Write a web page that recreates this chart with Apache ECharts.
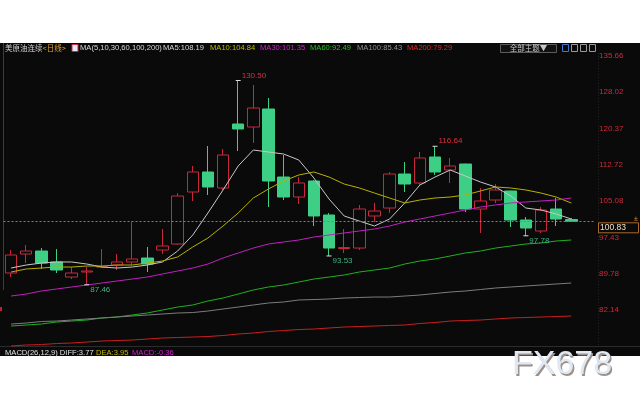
<!DOCTYPE html>
<html><head><meta charset="utf-8">
<script src="https://cdn.jsdelivr.net/npm/echarts@6/dist/echarts.min.js"></script>
<style>html,body{margin:0;padding:0;background:#fff}#c{width:640px;height:400px}</style>
</head><body><div id="c"></div>
<script>
const categories = ['D1','D2','D3','D4','D5','D6','D7','D8','D9','D10','D11','D12','D13','D14','D15','D16','D17','D18','D19','D20','D21','D22','D23','D24','D25','D26','D27','D28','D29','D30','D31','D32','D33','D34','D35','D36','D37','D38',''];
const opens  = [89.94,93.94,94.57,92.26,89.09,90.15,91.20,91.62,92.26,93.10,94.78,96.05,107.00,111.22,107.85,121.33,120.70,124.49,110.16,105.95,109.32,102.16,95.10,95.20,101.95,103.63,110.80,108.90,114.38,111.64,112.90,103.42,105.32,107.22,101.10,98.79,103.42,101.20];
const closes = [93.73,94.57,92.04,90.57,89.94,90.36,91.25,92.26,92.89,91.83,95.63,106.16,111.22,108.06,114.80,120.28,124.70,109.32,105.95,108.90,101.95,95.20,95.30,103.42,103.00,110.80,108.69,114.17,111.22,112.48,103.42,105.11,107.43,101.10,99.42,103.21,101.31,100.83];
const lows   = [89.09,92.04,90.78,89.94,88.67,87.46,90.99,90.57,91.62,90.15,93.94,95.84,105.11,106.37,107.43,115.64,117.33,103.84,105.32,104.48,99.84,93.53,94.15,94.78,100.68,102.58,107.00,108.48,110.59,108.90,102.79,98.37,104.69,99.63,97.78,98.37,99.84,100.80];
const highs  = [94.78,95.84,95.20,94.99,91.20,91.20,94.99,93.94,100.68,95.42,99.21,106.79,112.48,116.70,116.06,130.50,129.55,126.81,114.80,110.16,109.50,102.58,99.21,104.26,104.69,111.22,113.33,115.43,116.64,114.17,113.00,107.85,108.69,107.30,101.74,103.84,105.74,101.52];
const ma5   = [90.99,91.62,92.04,92.26,92.26,91.83,91.20,90.99,91.20,91.62,92.26,94.57,97.94,102.58,107.43,112.48,115.85,115.43,115.01,113.75,109.95,105.53,101.95,100.89,99.84,101.32,104.69,108.48,110.16,111.64,110.38,109.11,108.06,106.16,103.63,103.21,102.37,101.32];
const ma10  = [90.15,90.78,90.99,91.20,91.20,91.41,91.41,91.62,91.62,92.04,92.47,93.31,95.42,97.31,99.84,102.58,105.74,107.64,109.32,110.59,111.22,110.16,108.69,107.85,106.79,105.74,104.69,105.32,105.74,105.95,106.37,107.22,108.06,107.85,107.43,106.79,105.95,104.69];
const ma30  = [85.09,85.51,86.15,86.57,86.99,87.41,87.83,88.25,88.67,89.09,89.73,90.36,90.99,91.83,93.10,94.15,95.20,96.05,96.47,96.89,97.52,97.94,98.37,98.79,99.21,99.84,100.68,101.32,101.95,102.58,103.21,103.84,104.27,104.69,104.90,105.11,105.32,105.74];
const ma60  = [78.77,78.98,79.19,79.61,79.82,80.03,80.46,80.67,81.09,81.51,82.14,82.77,83.20,84.04,84.67,85.51,86.36,86.99,87.41,88.04,88.67,89.09,89.52,90.15,90.57,90.99,91.83,92.47,92.89,93.52,94.15,94.57,95.20,95.63,96.05,96.26,96.68,96.89];
const ma100 = [79.19,79.40,79.72,79.82,80.03,80.25,80.46,80.67,80.88,81.09,81.30,81.51,81.61,81.93,82.35,82.77,83.20,83.62,83.83,84.25,84.35,84.46,84.67,84.78,84.88,84.88,85.09,85.30,85.62,85.93,86.15,86.46,86.78,86.99,87.20,87.41,87.62,87.83];
const ma200 = [74.56,74.77,74.87,75.08,75.19,75.40,75.61,75.71,75.82,76.03,76.24,76.35,76.45,76.56,76.77,77.08,77.30,77.61,77.82,78.03,78.14,78.35,78.56,78.67,78.77,78.88,78.98,79.30,79.51,79.82,79.93,80.03,80.25,80.46,80.56,80.67,80.77,80.88];
const yTicks = [135.66,128.02,120.37,112.72,105.08,97.43,89.78,82.14];
const highMarks = [[15,130.50],[28,116.64]];
const lowMarks = [[5,87.46],[21,93.53],[34,97.78]];
const lastPrice = 100.83;

const candleData = opens.map((o,i)=>[o, closes[i], lows[i], highs[i]]);
const chart = echarts.init(document.getElementById('c'), null, {renderer:'canvas'});
const F = 'Liberation Sans, Arial, sans-serif';
const CJK = 'Noto Sans CJK SC, sans-serif';

function maLine(name, data, color){
  return {name, type:'line', data, showSymbol:false, symbol:'none', silent:true,
    lineStyle:{color, width:1}, z:3};
}
const markData = [];
highMarks.forEach(([i,v])=>markData.push({coord:[i,v], value:v,
  label:{color:'#e0303f', offset:[0,-5]}}));
lowMarks.forEach(([i,v])=>markData.push({coord:[i,v], value:v,
  label:{color:'#3fb383', offset:[0,5]}}));

chart.setOption({
  animation:false,
  backgroundColor:'#0a0a0a',
  grid:{left:3.5, top:53, width:590.5, height:294},
  xAxis:{type:'category', data:categories, boundaryGap:true,
    axisLine:{show:false}, axisTick:{show:false}, axisLabel:{show:false}, splitLine:{show:false}},
  yAxis:{type:'value', position:'right', min:74.35, max:136.29, scale:true,
    axisLine:{show:false}, axisTick:{show:false}, splitLine:{show:false},
    axisLabel:{customValues:yTicks, formatter:v=>v.toFixed(2), color:'#d02a3a', fontSize:8, fontFamily:F, margin:5}},
  series:[
    {type:'candlestick', data:candleData, barWidth:12, z:2,
      itemStyle:{color:'#0a0a0a', borderColor:'#c8283c', color0:'#3ccf85', borderColor0:'#3ccf85', borderWidth:1},
      markLine:{silent:true, symbol:'none', label:{show:false},
        lineStyle:{color:'#c0702a', type:[2,2], width:1, opacity:1}, data:[{yAxis:lastPrice}]},
      markPoint:{silent:true, symbol:'rect', symbolSize:[5,1], itemStyle:{color:'#dddddd'},
        label:{show:true, position:'right', distance:1, fontSize:8, fontFamily:F, formatter:p=>p.value.toFixed(2)},
        data:markData}
    },
    maLine('MA5', ma5, '#c8c8c8'),
    maLine('MA10', ma10, '#b8b000'),
    maLine('MA30', ma30, '#c020c0'),
    maLine('MA60', ma60, '#20b020'),
    maLine('MA100', ma100, '#7c7c7c'),
    maLine('MA200', ma200, '#c82020')
  ]
});

const py = chart.convertToPixel({yAxisIndex:0}, lastPrice);
function txt(x,y,text,color,size,font){
  return {type:'text', x, y, z:50, silent:true, style:{text, fill:color, fontSize:size||8, fontFamily:font||F, verticalAlign:'middle', align:'left'}};
}
const g = [
  {type:'rect', shape:{x:0,y:0,width:640,height:43}, style:{fill:'#ffffff'}, z:40, silent:true},
  {type:'rect', shape:{x:0,y:356,width:640,height:44}, style:{fill:'#ffffff'}, z:40, silent:true},
  {type:'line', shape:{x1:3.5,y1:43,x2:3.5,y2:290}, style:{stroke:'#3c3c3c', lineWidth:1}, z:1, silent:true},
  {type:'line', shape:{x1:0,y1:346.5,x2:640,y2:346.5}, style:{stroke:'#2c2c2c', lineWidth:1}, z:1, silent:true},
  {type:'line', shape:{x1:598.5,y1:53,x2:598.5,y2:346}, style:{stroke:'#222222', lineWidth:1, lineDash:[1,2]}, z:1, silent:true},
  {type:'rect', shape:{x:0,y:307,width:2,height:4}, style:{fill:'#c02030'}, z:50, silent:true},
  {type:'text', x:5, y:48, z:50, silent:true, style:{
    text:'{a|美原油连续}{b|<日线>}', fontSize:7.5, fontFamily:CJK, verticalAlign:'middle',
    rich:{a:{fill:'#d0d0d0', fontSize:7.5, fontFamily:CJK}, b:{fill:'#e0a030', fontSize:7.5, fontFamily:CJK}}}},
  {type:'rect', shape:{x:72,y:44.5,width:6,height:7}, style:{fill:'#e8e8ff', stroke:'#c03040', lineWidth:1}, z:50, silent:true},
  txt(80,48,'MA(5,10,30,60,100,200)','#d8d8d8',7.6),
  txt(163,48,'MA5:108.19','#d8d8d8',7.6),
  txt(210,48,'MA10:104.84','#c0b800',7.6),
  txt(260,48,'MA30:101.35','#d020d0',7.6),
  txt(310,48,'MA60:92.49','#20c020',7.6),
  txt(357,48,'MA100:85.43','#909090',7.6),
  txt(407,48,'MA200:79.29','#e02828',7.6),
  {type:'rect', shape:{x:500.5,y:44.5,width:56,height:8}, style:{fill:'#111111', stroke:'#5c5c5c', lineWidth:1}, z:50, silent:true},
  {type:'text', x:528.5, y:48.5, z:51, silent:true, style:{text:'全部主题▼', fill:'#c8c8c8', fontSize:7.5, fontFamily:CJK, align:'center', verticalAlign:'middle'}},
  {type:'rect', shape:{x:562.5,y:44.5,width:6,height:7}, style:{fill:'#0a0a0a', stroke:'#3a78c8', lineWidth:1}, z:50, silent:true},
  {type:'rect', shape:{x:571.5,y:44.5,width:6,height:7}, style:{fill:'#0a0a0a', stroke:'#9a9a9a', lineWidth:1}, z:50, silent:true},
  {type:'rect', shape:{x:580.5,y:44.5,width:6,height:7}, style:{fill:'#0a0a0a', stroke:'#9a9a9a', lineWidth:1}, z:50, silent:true},
  {type:'rect', shape:{x:589.5,y:44.5,width:6,height:7}, style:{fill:'#0a0a0a', stroke:'#9a9a9a', lineWidth:1}, z:50, silent:true},
  {type:'rect', shape:{x:598.5,y:py+1.5,width:40,height:10}, style:{fill:'#0a0a0a', stroke:'#a86a2a', lineWidth:1}, z:50, silent:true},
  txt(600,py+6.5,lastPrice.toFixed(2),'#f0e2c4',8.5),
  txt(634,py-2.5,'±','#e09030',7),
  txt(5,353,'MACD(26,12,9) DIFF:3.77','#e0e0e0',7.6),
  txt(96,353,'DEA:3.95','#c0b800',7.6),
  txt(132,353,'MACD:-0.36','#d020d0',7.6),
  {type:'text', x:513.5, y:366.5, z:60, silent:true, style:{text:'FX678', fill:'#9c9088', fontSize:34, fontFamily:F, verticalAlign:'middle', align:'left'}},
  {type:'text', x:512, y:365, z:61, silent:true, style:{text:'FX678', fill:'#dfe8f3', fontSize:34, fontFamily:F, verticalAlign:'middle', align:'left'}}
];
chart.setOption({graphic:g});
</script></body></html>
